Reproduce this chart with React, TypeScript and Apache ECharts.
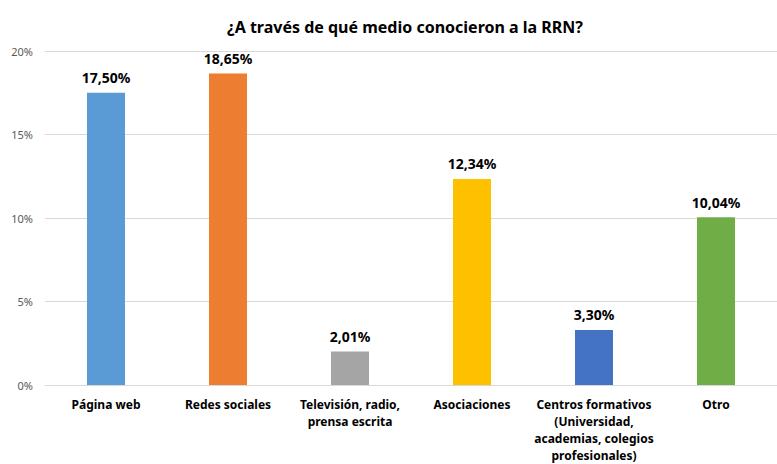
import React, { useEffect, useRef } from "react";
import * as echarts from "echarts";

const title = "¿A través de qué medio conocieron a la RRN?";
const categories = [
  "Página web",
  "Redes sociales",
  "Televisión, radio,\nprensa escrita",
  "Asociaciones",
  "Centros formativos\n(Universidad,\nacademias, colegios\nprofesionales)",
  "Otro",
];
const values = [17.5, 18.65, 2.01, 12.34, 3.3, 10.04];
const colors = ["#5B9BD5", "#ED7D31", "#A5A5A5", "#FFC000", "#4472C4", "#70AD47"];
const yTicks = { min: 0, max: 20, interval: 5 };

const FONT = "'Noto Sans', 'DejaVu Sans', sans-serif";

export default function App() {
  const ref = useRef<HTMLDivElement>(null);
  useEffect(() => {
    if (!ref.current) return;
    const chart = echarts.init(ref.current, undefined, { renderer: "svg" });
    chart.setOption({
      animation: false,
      backgroundColor: "#ffffff",
      title: {
        text: title,
        left: 400,
        top: 14,
        textAlign: "center",
        textStyle: { fontFamily: FONT, fontSize: 16, fontWeight: "bold", color: "#000000" },
      },
      grid: { left: 45, top: 51, bottom: 75, width: 743, containLabel: false },
      xAxis: {
        type: "category",
        data: categories,
        axisLine: { show: true, lineStyle: { color: "#D9D9D9", width: 1 } },
        axisTick: { show: false },
        axisLabel: {
          interval: 0,
          margin: 11,
          fontFamily: FONT,
          fontSize: 12,
          fontWeight: "bold",
          color: "#000000",
          lineHeight: 17,
        },
      },
      yAxis: {
        type: "value",
        min: yTicks.min,
        max: yTicks.max,
        interval: yTicks.interval,
        axisLine: { show: false },
        axisTick: { show: false },
        splitLine: { lineStyle: { color: "#D9D9D9", width: 1 } },
        axisLabel: {
          margin: 12,
          fontFamily: FONT,
          fontSize: 11,
          color: "#595959",
          formatter: (v: number) => `${v}%`,
        },
      },
      series: [
        {
          type: "bar",
          barWidth: 38,
          data: values.map((v, i) => ({ value: v, itemStyle: { color: colors[i] } })),
          label: {
            show: true,
            position: "top",
            distance: 8,
            fontFamily: FONT,
            fontSize: 14,
            fontWeight: "bold",
            color: "#000000",
            formatter: (p: any) => `${p.value.toFixed(2).replace(".", ",")}%`,
          },
        },
      ],
    });
    return () => chart.dispose();
  }, []);
  return (
    <div
      ref={ref}
      style={{ position: "fixed", left: 0, top: 0, width: 777, height: 464 }}
    />
  );
}
